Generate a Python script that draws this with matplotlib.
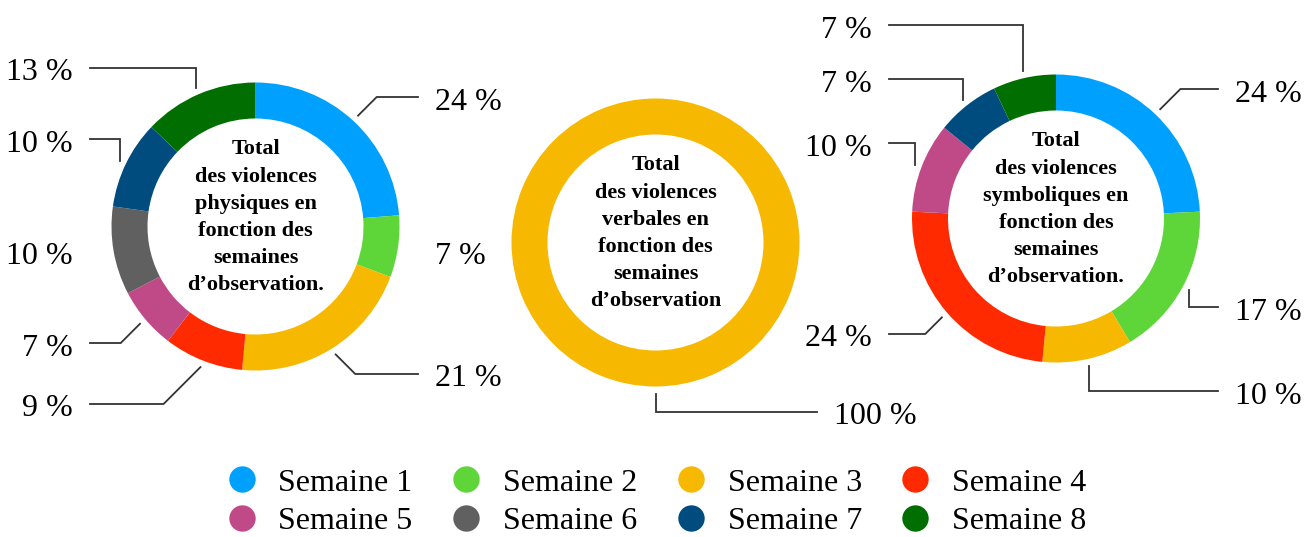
import matplotlib.pyplot as plt
from matplotlib.lines import Line2D
import numpy as np

plt.rcParams['font.family'] = ['Liberation Serif', 'DejaVu Serif']

# Data
weeks = ['Semaine 1', 'Semaine 2', 'Semaine 3', 'Semaine 4',
         'Semaine 5', 'Semaine 6', 'Semaine 7', 'Semaine 8']
colors = ['#00A0FF', '#5ED639', '#F6B800', '#FF2A00',
          '#C04A87', '#606060', '#004C7F', '#006E00']
physiques = [24, 7, 21, 9, 7, 10, 10, 13]
verbales = [0, 0, 100, 0, 0, 0, 0, 0]
symboliques = [24, 17, 10, 24, 10, 0, 7, 7]

titles = ['Total\ndes violences\nphysiques en\nfonction des\nsemaines\nd\u2019observation.',
          'Total\ndes violences\nverbales en\nfonction des\nsemaines\nd\u2019observation',
          'Total\ndes violences\nsymboliques en\nfonction des\nsemaines\nd\u2019observation.']

# layout (pixels, y measured from top)
W, H = 1309, 537
centers = [(255.5, 226.5), (655.5, 242.5), (1056, 218.5)]
R_OUT, R_W = 144, 36

# per-label layout: (leader style, label line y, line end x); style None = no leader
label_layout = [
    {0: ('diag', 97, 418), 1: (None, 252, 435), 2: ('diag', 374, 418), 3: ('diag', 404, 90),
     4: ('diag', 343, 90), 5: (None, 252, 73), 6: ('vert', 139, 90), 7: ('vert', 68, 90)},
    {2: ('vert', 412, 817)},
    {0: ('diag', 89, 1218), 1: ('vert', 307, 1218), 2: ('vert', 391, 1218), 3: ('diag', 334, 889),
     4: ('vert', 143, 889), 6: ('vert', 79, 889), 7: ('vert', 25, 889)},
]

fig = plt.figure(figsize=(W / 100, H / 100), dpi=100)
ax = fig.add_axes([0, 0, 1, 1])

for k, vals in enumerate([physiques, verbales, symboliques]):
    cx, cy = centers[k]
    ax.pie(vals, colors=colors, radius=R_OUT, center=(cx, H - cy),
           startangle=90, counterclock=False,
           wedgeprops=dict(width=R_W, linewidth=0))
    ax.text(cx, H - cy + 9, titles[k], ha='center', va='center',
            fontsize=16, fontweight='bold', linespacing=1.48)

    total = sum(vals)
    cum = 0
    for i, v in enumerate(vals):
        mid = cum + v / 2
        cum += v
        if v == 0:
            continue
        style, ly, lx = label_layout[k][i]
        ang = np.deg2rad(90 - 360 * mid / total)
        px = cx + (R_OUT + 7) * np.cos(ang)
        py = cy - (R_OUT + 7) * np.sin(ang)
        right = lx > cx
        if style is not None:
            if style == 'diag':
                ex = px + (1 if right else -1) * abs(ly - py)
            else:
                ex = px
            ax.plot([px, ex, lx], [H - py, H - ly, H - ly], color='#333333', lw=1.3,
                    solid_joinstyle='miter')
            tx = lx + 17 if right else lx - 17
        else:
            tx = lx
        ax.text(tx, H - ly - 5, f'{v} %', ha='left' if right else 'right',
                va='center', fontsize=23)

ax.set_xlim(0, W)
ax.set_ylim(0, H)
ax.set_aspect('equal')
ax.axis('off')

# legend filled row by row (matplotlib fills columns first)
order = [0, 4, 1, 5, 2, 6, 3, 7]
handles = [Line2D([], [], marker='o', linestyle='none', markersize=19,
                  markerfacecolor=colors[i], markeredgewidth=0) for i in order]
fig.legend(handles, [weeks[i] for i in order], loc='center',
           bbox_to_anchor=(656 / W, 1 - 502 / H),
           ncol=4, frameon=False, fontsize=23, handlelength=1.0,
           handletextpad=0.65, columnspacing=1.18, labelspacing=0.28,
           borderpad=0, borderaxespad=0)

plt.savefig('out.png', dpi=100)
